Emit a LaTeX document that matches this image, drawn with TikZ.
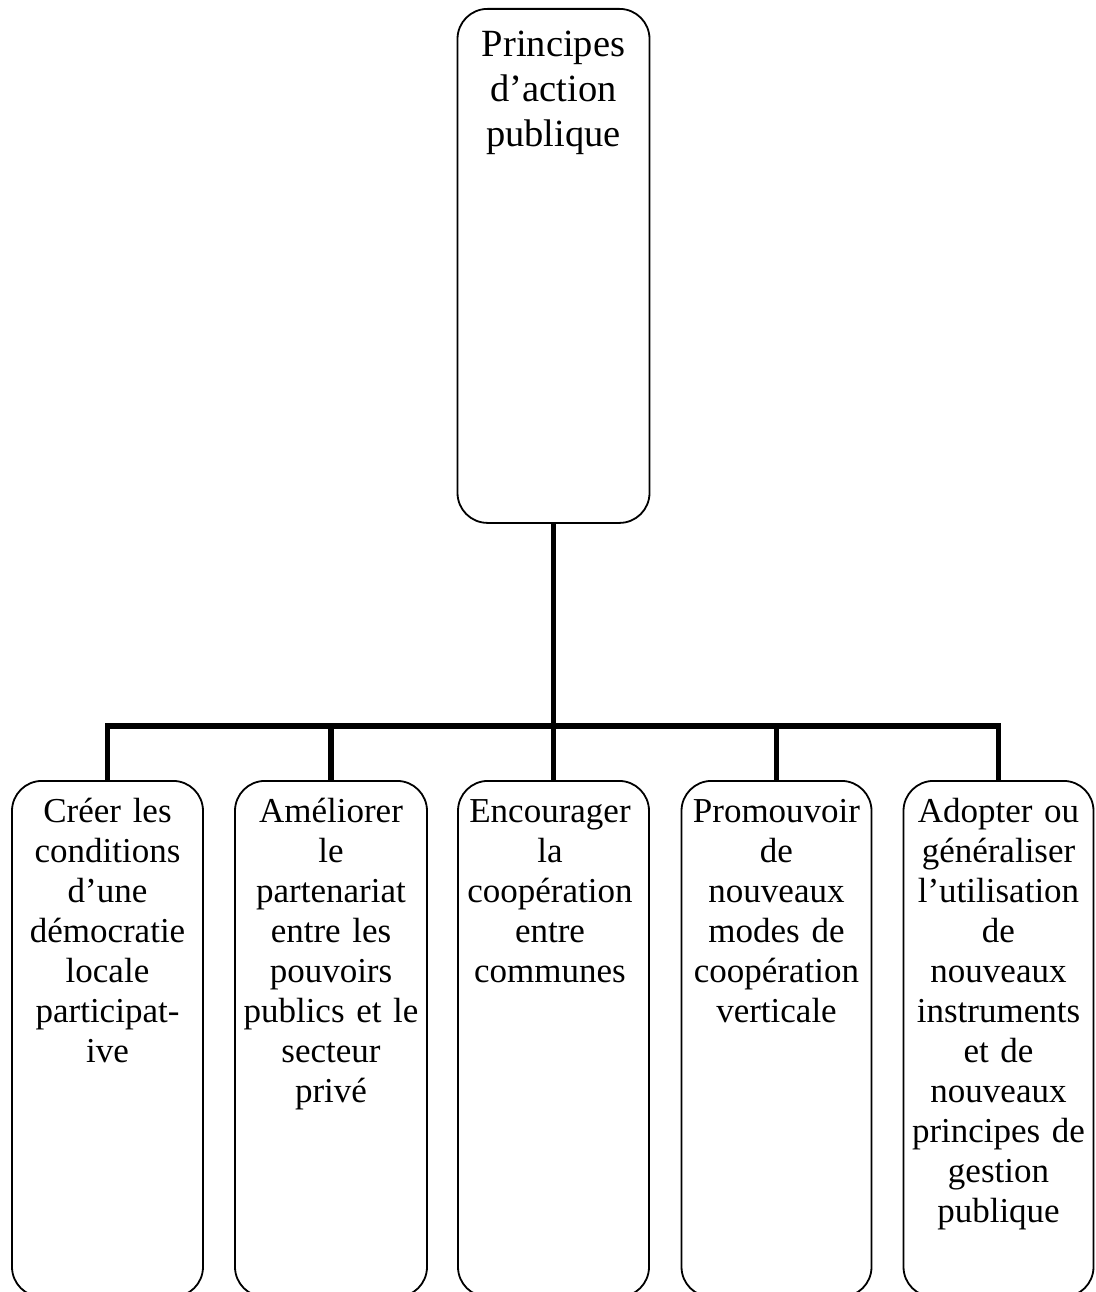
\documentclass[tikz,border=0pt]{standalone}
\usepackage{fontspec}
\setmainfont{Liberation Serif}
\begin{document}
\begin{tikzpicture}[x=1pt,y=-1pt,
  boxstyle/.style={draw=black, line width=1.8pt, rounded corners=30pt, inner sep=0pt, anchor=north},
  toptext/.style={anchor=base, inner sep=0pt, align=center, text width=185pt, font=\fontsize{38.5}{45}\selectfont},
  bottext/.style={anchor=base, inner sep=0pt, align=center, text width=190pt, font=\fontsize{35}{40}\selectfont},
  conn/.style={line width=5.8pt, line join=miter}
]
\useasboundingbox (0,0) rectangle (1095,1292);
\clip (0,0) rectangle (1095,1292);

% top box
\node[boxstyle, minimum width=192pt, minimum height=514pt] (top) at (553.5,8) {};
\node[toptext] (ttop) at (553.5,57) {Principes\\d’action\\publique};

% bottom boxes
\node[boxstyle, minimum width=191pt, minimum height=516pt] (b1) at (107.5,780) {};
\node[boxstyle, minimum width=192pt, minimum height=516pt] (b2) at (331,780) {};
\node[boxstyle, minimum width=191pt, minimum height=516pt] (b3) at (553.5,780) {};
\node[boxstyle, minimum width=190pt, minimum height=516pt] (b4) at (776.5,780) {};
\node[boxstyle, minimum width=190pt, minimum height=516pt] (b5) at (998.5,780) {};

\node[bottext] (t1) at (107.5,822) {Créer les\\conditions\\d’une\\démocratie\\locale\\participat-\\ive};
\node[bottext] (t2) at (331,822) {Améliorer\\le\\partenariat\\entre les\\pouvoirs\\publics et le\\secteur\\privé};
\node[bottext] (t3) at (550,822) {Encourager\\la\\coopération\\entre\\communes};
\node[bottext] (t4) at (776.5,822) {Promouvoir\\de\\nouveaux\\modes de\\coopération\\verticale};
\node[bottext] (t5) at (998.5,822) {Adopter ou\\généraliser\\l’utilisation\\de\\nouveaux\\instruments\\et de\\nouveaux\\principes de\\gestion\\publique};

% connectors
\coordinate (bar) at (553.5,726);
\draw[conn] (top.south) -- (b3.north);
\draw[conn] (b1.north) -- (b1.north |- bar) -- (b5.north |- bar) -- (b5.north);
\draw[conn] (b2.north) -- (b2.north |- bar);
\draw[conn] (b4.north) -- (b4.north |- bar);
\end{tikzpicture}
\end{document}
